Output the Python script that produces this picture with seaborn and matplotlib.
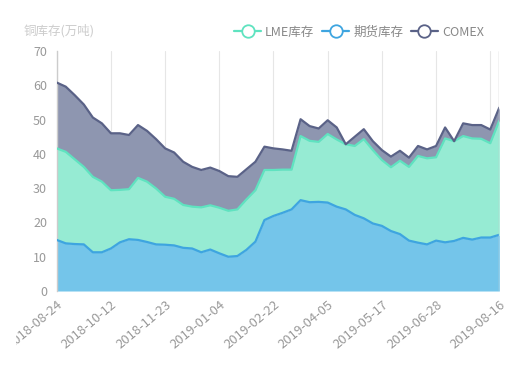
import numpy as np
import pandas as pd
import matplotlib
matplotlib.use("Agg")
import matplotlib.pyplot as plt
import seaborn as sns
from matplotlib.lines import Line2D
from matplotlib.transforms import Bbox

dates = ['2018-08-24', '2018-08-31', '2018-09-07', '2018-09-14', '2018-09-21', '2018-09-28',
         '2018-10-12', '2018-10-19', '2018-10-26', '2018-11-02', '2018-11-09', '2018-11-16',
         '2018-11-23', '2018-11-30', '2018-12-07', '2018-12-14', '2018-12-21', '2018-12-28',
         '2019-01-04', '2019-01-11', '2019-01-18', '2019-01-25', '2019-02-01', '2019-02-15',
         '2019-02-22', '2019-03-01', '2019-03-08', '2019-03-15', '2019-03-22', '2019-03-29',
         '2019-04-05', '2019-04-12', '2019-04-19', '2019-04-26', '2019-05-03', '2019-05-10',
         '2019-05-17', '2019-05-24', '2019-05-31', '2019-06-07', '2019-06-14', '2019-06-21',
         '2019-06-28', '2019-07-05', '2019-07-12', '2019-07-19', '2019-07-26', '2019-08-02',
         '2019-08-09', '2019-08-16']

# 期货库存 (bottom)
futures = [14.9, 13.9, 13.7, 13.6, 11.3, 11.3, 12.4, 14.2, 15.1, 14.9,
           14.3, 13.6, 13.5, 13.3, 12.6, 12.4, 11.3, 12.1, 11.0, 10.0,
           10.2, 12.0, 14.4, 20.7, 21.9, 22.8, 23.8, 26.5, 25.9, 26.0,
           25.8, 24.6, 23.8, 22.2, 21.2, 19.7, 19.0, 17.5, 16.6, 14.7,
           14.1, 13.6, 14.7, 14.2, 14.6, 15.5, 15.0, 15.6, 15.6, 16.4]

# LME库存
lme = [26.7, 26.7, 24.7, 22.6, 22.0, 20.6, 17.0, 15.3, 14.6, 18.1,
       17.6, 16.3, 14.0, 13.6, 12.5, 12.2, 13.1, 12.9, 13.3, 13.4,
       13.6, 14.7, 15.0, 14.6, 13.4, 12.6, 11.6, 18.7, 17.9, 17.5,
       20.0, 19.6, 19.0, 20.1, 23.1, 21.4, 19.2, 18.6, 21.4, 21.5,
       25.3, 25.1, 24.3, 30.3, 29.1, 29.7, 29.5, 28.8, 27.5, 33.3]

# COMEX
comex = [19.2, 19.0, 18.7, 18.2, 17.3, 17.0, 16.6, 16.5, 15.8, 15.4,
         14.8, 14.4, 14.1, 13.5, 12.6, 11.6, 10.9, 11.0, 10.7, 10.1,
         9.5, 8.8, 8.3, 6.8, 6.3, 5.9, 5.5, 4.9, 4.3, 3.9,
         4.0, 3.5, 0.0, 2.7, 2.9, 2.6, 2.9, 3.1, 2.9, 2.7,
         2.9, 2.6, 3.3, 3.2, 0.0, 3.7, 3.9, 4.0, 4.0, 3.8]

c_fut, c_fut_line = '#74c5ea', '#3ea5e0'
c_lme, c_lme_line = '#96ebd3', '#5fe3c0'
c_cmx, c_cmx_line = '#8e96b0', '#5a6287'

sns.set_style("white")
plt.rcParams['font.family'] = ['Noto Sans CJK SC', 'DejaVu Sans']

df = pd.DataFrame({'date': dates, 'futures': futures, 'lme': lme, 'comex': comex})
df['x'] = np.arange(len(df))
df['s1'] = df['futures']
df['s2'] = df['s1'] + df['lme']
df['s3'] = df['s2'] + df['comex']

fig = plt.figure(figsize=(5.31, 3.68), dpi=100)
ax = fig.add_axes([0.1068, 0.2092, 0.8335, 0.6522])

ax.stackplot(df['x'], df['futures'], df['lme'], df['comex'],
             colors=[c_fut, c_lme, c_cmx], linewidth=0, zorder=2)
sns.lineplot(data=df, x='x', y='s1', color=c_fut_line, linewidth=1.6, ax=ax, zorder=3)
sns.lineplot(data=df, x='x', y='s2', color=c_lme_line, linewidth=1.6, ax=ax, zorder=3)
sns.lineplot(data=df, x='x', y='s3', color=c_cmx_line, linewidth=1.6, ax=ax, zorder=3)

ax.set_xlim(0, len(df) - 1)
ax.set_ylim(0, 70)
ax.set_yticks(range(0, 71, 10))
ticks = list(range(0, len(df), 6)) + [len(df) - 1]
ax.set_xticks(ticks)
labels = [df['date'][i] if i != 48 else '' for i in ticks]
ax.set_xticklabels(labels, rotation=40, ha='right', rotation_mode='anchor')
for t in ticks:
    ax.axvline(t, color='#e6e6e6', linewidth=0.8, zorder=1)
ax.axvline(len(df) - 1, color='#cccccc', linewidth=1.0, zorder=4)

ax.tick_params(axis='both', length=0, colors='#999999', labelsize=9)
ax.tick_params(axis='x', pad=5, labelsize=9.4)
ax.tick_params(axis='y', pad=7)
ax.set_xlabel('')
ax.set_ylabel('')
for s in ['top', 'right', 'bottom']:
    ax.spines[s].set_visible(False)
ax.spines['left'].set_color('#cccccc')
ax.spines['left'].set_linewidth(1.0)

# the first date label is cut off at the left in the original
first = ax.get_xticklabels()[0]
first.set_clip_on(True)
first.set_clip_box(Bbox([[16, 0], [531, 368]]))

fig.text(24 / 531, 1 - 31 / 368, '铜库存(万吨)', color='#cccccc', fontsize=9, va='center', ha='left')

handles = [Line2D([], [], color=c, marker='o', markersize=9, markerfacecolor='white',
                  markeredgecolor=c, markeredgewidth=1.3, linewidth=1.6)
           for c in [c_lme_line, c_fut_line, c_cmx_line]]
fig.legend(handles, ['LME库存', '期货库存', 'COMEX'], loc='center right',
           bbox_to_anchor=(495 / 531, 1 - 32 / 368), ncol=3, frameon=False,
           fontsize=9, labelcolor='#888888', handlelength=2.2, handletextpad=0.3,
           columnspacing=0.6)

fig.savefig('out.png', dpi=100)
